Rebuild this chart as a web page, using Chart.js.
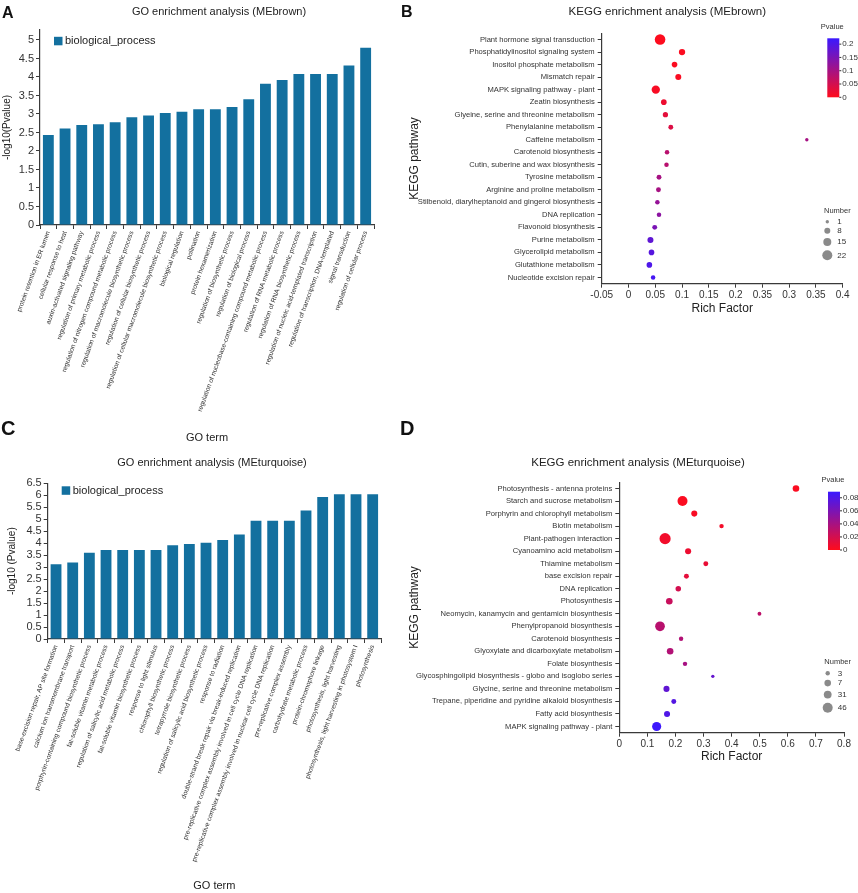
<!DOCTYPE html>
<html>
<head>
<meta charset="utf-8">
<script src="https://cdn.jsdelivr.net/npm/chart.js@4.4.1/dist/chart.umd.min.js"></script>
<style>
  body { margin: 0; background: #fff; }
  #page { position: relative; width: 858px; height: 893px; overflow: hidden; font-family: "Liberation Sans", Arial, sans-serif; }
  .panel { position: absolute; }
  .tag { position: absolute; font-weight: bold; line-height: 1; color: #111; }
</style>
</head>
<body>
<div id="page">
  <div class="panel" style="left:0;top:0;width:400px;height:445px"><canvas id="goBrown"></canvas></div>
  <div class="panel" style="left:400px;top:0;width:458px;height:445px"><canvas id="keggBrown"></canvas></div>
  <div class="panel" style="left:0;top:445px;width:400px;height:448px"><canvas id="goTurq"></canvas></div>
  <div class="panel" style="left:400px;top:445px;width:458px;height:448px"><canvas id="keggTurq"></canvas></div>
  <div class="tag" style="left:2px;top:5px;font-size:16px">A</div>
  <div class="tag" style="left:401px;top:4px;font-size:16px">B</div>
  <div class="tag" style="left:1px;top:418px;font-size:20px">C</div>
  <div class="tag" style="left:400px;top:418px;font-size:20px">D</div>
</div>
<script>
// ---- data: MEbrown ----
const goBrownTerms = [
  'protein retention in ER lumen', 'cellular response to heat', 'auxin-activated signaling pathway',
  'regulation of primary metabolic process', 'regulation of nitrogen compound metabolic process',
  'regulation of macromolecule biosynthetic process', 'regulation of cellular biosynthetic process',
  'regulation of cellular macromolecule biosynthetic process', 'biological regulation', 'pollination',
  'protein hexamerization', 'regulation of biosynthetic process', 'regulation of biological process',
  'regulation of nucleobase-containing compound metabolic process', 'regulation of RNA metabolic process',
  'regulation of RNA biosynthetic process', 'regulation of nucleic acid-templated transcription',
  'regulation of transcription, DNA-templated', 'signal transduction', 'regulation of cellular process'
];
const goBrownValues = [2.43, 2.61, 2.70, 2.72, 2.78, 2.91, 2.96, 3.03, 3.06, 3.13,
                       3.13, 3.19, 3.40, 3.82, 3.92, 4.08, 4.08, 4.08, 4.31, 4.79];

const keggBrownTerms = [
  'Plant hormone signal transduction', 'Phosphatidylinositol signaling system', 'Inositol phosphate metabolism',
  'Mismatch repair', 'MAPK signaling pathway - plant', 'Zeatin biosynthesis',
  'Glyeine, serine and threonine metabolism', 'Phenylalanine metabolism', 'Caffeine metabolism',
  'Carotenoid biosynthesis', 'Cutin, suberine and wax biosynthesis', 'Tyrosine metabolism',
  'Arginine and proline metabolism', 'Stilbenoid, diarylheptanoid and gingerol biosynthesis', 'DNA replication',
  'Flavonoid biosynthesis', 'Purine metabolism', 'Glycerolipid metabolism', 'Glutathione metabolism',
  'Nucleotide excision repair'
];
const keggBrownRich  = [0.059, 0.100, 0.086, 0.093, 0.051, 0.066, 0.069, 0.079, 0.333, 0.072,
                        0.071, 0.057, 0.056, 0.054, 0.057, 0.049, 0.041, 0.043, 0.039, 0.046];
const keggBrownP     = [0.002, 0.004, 0.005, 0.006, 0.008, 0.02, 0.03, 0.04, 0.10, 0.08,
                        0.08, 0.10, 0.10, 0.12, 0.13, 0.15, 0.18, 0.19, 0.20, 0.21];
const keggBrownCount = [24, 9, 7, 8, 16, 7, 6, 5, 1, 4, 4, 5, 5, 4, 4, 5, 8, 7, 7, 4];
const keggBrownTicks = ['-0.05', '0', '0.05', '0.1', '0.15', '0.2', '0.35', '0.3', '0.35', '0.4'];
const brownSizeKeys  = [1, 8, 15, 22];
const brownPTicks    = [0, 0.05, 0.1, 0.15, 0.2];

// ---- data: MEturquoise ----
const goTurqTerms = [
  'base-excision repair, AP site formation', 'calcium ion transmembrane transport',
  'porphyrin-containing compound biosynthetic process', 'fat-soluble vitamin metabolic process',
  'regulation of salicylic acid metabolic process', 'fat-soluble vitamin biosynthetic process',
  'response to light stimulus', 'chlorophyll biosynthetic process', 'tetrapyrrole biosynthetic process',
  'regulation of salicylic acid biosynthetic process', 'response to radiation',
  'double-strand break repair via break-induced replication',
  'pre-replicative complex assembly involved in cell cycle DNA replication',
  'pre-replicative complex assembly involved in nuclear cell cycle DNA replication',
  'pre-replicative complex assembly', 'carbohydrate metabolic process', 'protein-chromophore linkage',
  'photosynthesis, light harvesting', 'photosynthesis, light harvesting in photosystem I', 'photosynthesis'
];
const goTurqValues = [3.12, 3.19, 3.60, 3.72, 3.72, 3.72, 3.72, 3.91, 3.97, 4.02,
                      4.13, 4.36, 4.94, 4.94, 4.94, 5.36, 5.93, 6.04, 6.04, 6.04];

const keggTurqTerms = [
  'Photosynthesis - antenna proteins', 'Starch and sucrose metabolism', 'Porphyrin and chlorophyll metabolism',
  'Biotin metabolism', 'Plant-pathogen interaction', 'Cyanoamino acid metabolism', 'Thiamine metabolism',
  'base excision repair', 'DNA replication', 'Photosynthesis',
  'Neomycin, kanamycin and gentamicin biosynthesis', 'Phenylpropanoid biosynthesis', 'Carotenoid biosynthesis',
  'Glyoxylate and dicarboxylate metabolism', 'Folate biosynthesis',
  'Glycosphingolipid biosynthesis - globo and isoglobo series', 'Glycine, serine and threonine metabolism',
  'Trepane, piperidine and pyridine alkaloid biosynthesis', 'Fatty acid biosynthesis',
  'MAPK signaling pathway - plant'
];
const keggTurqRich  = [0.629, 0.225, 0.267, 0.364, 0.163, 0.245, 0.308, 0.239, 0.210, 0.178,
                       0.499, 0.145, 0.220, 0.181, 0.234, 0.333, 0.168, 0.194, 0.170, 0.133];
const keggTurqP     = [0.002, 0.002, 0.003, 0.005, 0.006, 0.008, 0.010, 0.012, 0.020, 0.025,
                       0.030, 0.032, 0.035, 0.035, 0.040, 0.070, 0.072, 0.078, 0.080, 0.088];
const keggTurqCount = [7, 46, 6, 3, 54, 6, 4, 4, 5, 7, 2, 44, 3, 7, 3, 1, 6, 4, 6, 40];
const turqSizeKeys  = [3, 7, 31, 46];
const turqPTicks    = [0, 0.02, 0.04, 0.06, 0.08];

// ---- style ----
const FONT = '"Liberation Sans", Arial, sans-serif';
const BAR_BLUE = '#13709f';
const AXIS = '#3a3a3a';
const TEXT = '#222';
const RED = [255, 12, 28], BLUE = [58, 24, 255];
const brownSizeRadii = [1.7, 3, 4, 5];
const turqSizeRadii  = [2.2, 3.3, 3.9, 5];

Chart.defaults.font.family = FONT;
Chart.defaults.color = TEXT;

function pColor(p, max) {
  const t = Math.max(0, Math.min(1, p / max));
  const c = RED.map((v, i) => Math.round(v + (BLUE[i] - v) * t));
  return 'rgb(' + c.join(',') + ')';
}

function sizeFor(n, keys, radii) {
  let i = 0;
  while (i < keys.length - 2 && n > keys[i + 1]) i++;
  const t = (n - keys[i]) / (keys[i + 1] - keys[i]);
  return Math.max(1, radii[i] + t * (radii[i + 1] - radii[i]));
}

const cleanNum = v => String(+v.toFixed(2));

// move the chart title sideways (original titles are not centred on the canvas)
const titleShift = {
  id: 'titleShift',
  afterLayout(chart, args, o) {
    const t = chart.titleBlock;
    if (t && o.dx) { t.left += o.dx; t.right += o.dx; }
  }
};

// legend square inside the bar chart area
const insideLegend = {
  id: 'insideLegend',
  afterDraw(chart, args, o) {
    const {ctx, chartArea} = chart;
    const ds = chart.data.datasets[0];
    const x = chartArea.left + o.dx, y = chartArea.top + o.dy;
    ctx.save();
    ctx.fillStyle = ds.backgroundColor;
    ctx.fillRect(x, y - 4.2, 8.5, 8.5);
    ctx.fillStyle = TEXT;
    ctx.font = '11px ' + FONT;
    ctx.textBaseline = 'middle';
    ctx.fillText(ds.label, x + 11, y);
    ctx.restore();
  }
};

// Pvalue colour bar + Number size legend
const keggLegend = {
  id: 'keggLegend',
  afterDraw(chart, args, o) {
    const {ctx, chartArea: ca} = chart;
    ctx.save();
    const bx = ca.right + o.barDx, by = ca.top + o.barDy, bw = 12, bh = o.barH;
    const g = ctx.createLinearGradient(0, by + bh, 0, by);
    g.addColorStop(0, pColor(0, 1));
    g.addColorStop(1, pColor(1, 1));
    ctx.fillStyle = g;
    ctx.fillRect(bx, by, bw, bh);
    ctx.fillStyle = '#333';
    ctx.font = '7.5px ' + FONT;
    ctx.textAlign = 'center';
    ctx.textBaseline = 'middle';
    ctx.fillText('Pvalue', bx + 5, by - o.titleGap);
    ctx.textAlign = 'left';
    ctx.font = '8px ' + FONT;
    o.pTicks.forEach(v => {
      const yy = by + bh - v / o.pMax * bh;
      ctx.fillRect(bx + bw, yy - 0.5, 2, 1);
      ctx.fillText(String(v), bx + bw + 3, yy);
    });
    // Number legend
    const nx = ca.right + o.numDx;
    let ny = ca.top + o.numDy;
    ctx.font = '7.5px ' + FONT;
    ctx.textAlign = 'center';
    ctx.fillText('Number', nx + 10, ny - 11);
    ctx.textAlign = 'left';
    ctx.font = '8px ' + FONT;
    let prevR = 0;
    o.sizeKeys.forEach((k, i) => {
      const r = sizeFor(k, o.sizeKeys, o.sizeRadii);
      if (i > 0) ny += prevR + r + 4.3;
      ctx.fillStyle = '#8a8a8a';
      ctx.beginPath();
      ctx.arc(nx, ny, r, 0, Math.PI * 2);
      ctx.fill();
      ctx.fillStyle = '#333';
      ctx.fillText(String(k), nx + 10, ny);
      prevR = r;
    });
    ctx.restore();
  }
};

function goChart(id, terms, values, b) {
  new Chart(document.getElementById(id), {
    type: 'bar',
    data: {
      labels: terms,
      datasets: [{ label: 'biological_process', data: values, backgroundColor: BAR_BLUE,
                   barPercentage: 0.65, categoryPercentage: 1 }]
    },
    options: {
      responsive: true, maintainAspectRatio: false, animation: false,
      layout: { padding: { left: 0, top: 0, right: b.padRight, bottom: 0 } },
      plugins: {
        legend: { display: false },
        tooltip: { enabled: false },
        title: { display: true, text: b.title, color: TEXT, font: { size: 11, weight: 'normal' },
                 padding: { top: b.titleTop, bottom: b.titleBottom } },
        titleShift: { dx: b.titleDx },
        insideLegend: { dx: 14, dy: b.legendDy }
      },
      scales: {
        x: {
          grid: { display: true, drawOnChartArea: false, offset: true, tickLength: 4, color: AXIS },
          border: { color: AXIS, width: 1.2 },
          ticks: { autoSkip: false, minRotation: 70, maxRotation: 70, padding: 1, color: '#333', font: { size: 6.6 } },
          title: { display: true, text: 'GO term', color: TEXT, font: { size: 11 }, padding: { top: 0, bottom: 0 } },
          afterFit: s => { s.height = b.xHeight; }
        },
        y: {
          min: 0, max: b.yMax,
          grid: { display: true, drawOnChartArea: false, tickLength: 4, color: AXIS },
          border: { color: AXIS, width: 1.2 },
          ticks: { stepSize: 0.5, includeBounds: false, autoSkip: false, padding: 2, color: '#333',
                   font: { size: b.yFont }, callback: cleanNum },
          title: { display: true, text: b.yTitle, color: TEXT, font: { size: 10 }, padding: { top: b.yTitlePad, bottom: 0 } },
          afterFit: s => { s.width = b.left; }
        }
      }
    },
    plugins: [insideLegend, titleShift]
  });
}

function keggChart(id, terms, rich, pvals, counts, b) {
  const points = terms.map((t, i) => ({ x: rich[i], y: t }));
  new Chart(document.getElementById(id), {
    type: 'scatter',
    data: {
      datasets: [{
        data: points,
        pointRadius: ctx => sizeFor(counts[ctx.dataIndex], b.sizeKeys, b.sizeRadii),
        pointBackgroundColor: ctx => pColor(pvals[ctx.dataIndex], b.pMax),
        pointBorderWidth: 0
      }]
    },
    options: {
      responsive: true, maintainAspectRatio: false, animation: false,
      layout: { padding: { left: 0, top: 0, right: b.padRight, bottom: b.padBottom } },
      plugins: {
        legend: { display: false },
        tooltip: { enabled: false },
        title: { display: true, text: b.title, color: TEXT, font: { size: 11.5, weight: 'normal' },
                 padding: { top: b.titleTop, bottom: b.titleBottom } },
        titleShift: { dx: b.titleDx },
        keggLegend: b.legend
      },
      scales: {
        x: {
          type: 'linear', min: b.xMin, max: b.xMax,
          grid: { display: true, drawOnChartArea: false, tickLength: 4, color: AXIS },
          border: { color: AXIS, width: 1.2 },
          ticks: { stepSize: b.xStep, autoSkip: false, minRotation: 0, maxRotation: 0, padding: 2,
                   color: '#333', font: { size: 10 },
                   callback: b.xLabels ? (v, i) => b.xLabels[i] : cleanNum },
          title: { display: true, text: 'Rich Factor', color: TEXT, font: { size: 12 }, padding: { top: 0, bottom: 4 } },
          afterFit: s => { s.height = b.xHeight; }
        },
        y: {
          type: 'category', labels: terms, offset: true,
          grid: { display: true, drawOnChartArea: false, offset: false, tickLength: 4, color: AXIS },
          border: { color: AXIS, width: 1.2 },
          ticks: { autoSkip: false, padding: 3, color: '#333', font: { size: 7.6 } },
          title: { display: true, text: 'KEGG pathway', color: TEXT, font: { size: 12 }, padding: { top: 7.8, bottom: 0 } },
          afterFit: s => { s.width = b.left; }
        }
      }
    },
    plugins: [keggLegend, titleShift]
  });
}

goChart('goBrown', goBrownTerms, goBrownValues, {
  title: 'GO enrichment analysis (MEbrown)', yTitle: '-log10(Pvalue)', yMax: 5.27, titleDx: 32, yFont: 11,
  left: 40, padRight: 26, xHeight: 220, titleTop: 5.4, titleBottom: 11.4, yTitlePad: 1, legendDy: 11
});
goChart('goTurq', goTurqTerms, goTurqValues, {
  title: 'GO enrichment analysis (MEturquoise)', yTitle: '-log10 (Pvalue)', yMax: 6.5, titleDx: 21.5, yFont: 11,
  left: 47.7, padRight: 19, xHeight: 254, titleTop: 11.4, titleBottom: 13.7, yTitlePad: 6.5, legendDy: 7.2
});
keggChart('keggBrown', keggBrownTerms, keggBrownRich, keggBrownP, keggBrownCount, {
  title: 'KEGG enrichment analysis (MEbrown)', xMin: -0.05, xMax: 0.4, xStep: 0.05, xLabels: keggBrownTicks,
  titleDx: 46,
  left: 201.7, padRight: 15.3, padBottom: 124.8, xHeight: 36.5, titleTop: 5.1, titleBottom: 14.4,
  pMax: 0.222, sizeKeys: brownSizeKeys, sizeRadii: brownSizeRadii,
  legend: { barDx: -15.4, barDy: 5, barH: 59, titleGap: 11, pTicks: brownPTicks, pMax: 0.222,
            numDx: -15.4, numDy: 188.4, sizeKeys: brownSizeKeys, sizeRadii: brownSizeRadii }
});
keggChart('keggTurq', keggTurqTerms, keggTurqRich, keggTurqP, keggTurqCount, {
  title: 'KEGG enrichment analysis (MEturquoise)', xMin: 0, xMax: 0.8, xStep: 0.1,
  titleDx: 16,
  left: 219.3, padRight: 14, padBottom: 125.1, xHeight: 35.2, titleTop: 11.1, titleBottom: 12.4,
  pMax: 0.0893, sizeKeys: turqSizeKeys, sizeRadii: turqSizeRadii,
  legend: { barDx: -16, barDy: 9.4, barH: 58.3, titleGap: 11.7, pTicks: turqPTicks, pMax: 0.0893,
            numDx: -16.3, numDy: 191, sizeKeys: turqSizeKeys, sizeRadii: turqSizeRadii }
});
</script>
</body>
</html>
